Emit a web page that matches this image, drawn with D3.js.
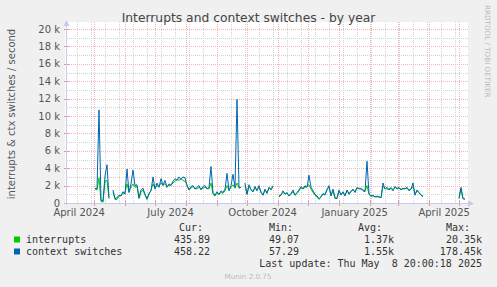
<!DOCTYPE html>
<html>
<head>
<meta charset="utf-8">
<script src="https://cdn.jsdelivr.net/npm/d3@7"></script>
<style>
  html, body { margin: 0; padding: 0; background: #F0F0F0; }
  svg { display: block; }
</style>
</head>
<body>
<script>
// ---------- data (values in thousands, one point every 2 days from 2024-05-01) ----------
const seriesNames = ["interrupts", "context switches"];
const seriesColors = ["#00CC00", "#0066B3"];
const dataStartISO = "2024-05-01T20:00:00Z";
const stepDays = 2;

const interrupts = [
  1.6,1.5,2.9,0.2,0.1,2.5,2.6,0.5,null,1.3,
  0.4,0.4,0.8,0.9,1.1,1.2,2.2,1.3,1.8,2.2,
  1.8,1.9,0.5,1.2,1.5,0.9,0.4,1.0,1.5,2.2,
  1.7,2.0,1.9,2.3,2.1,2.2,1.9,2.0,2.1,2.3,
  2.5,2.7,2.6,2.8,2.6,2.5,2.1,1.5,1.7,1.9,
  1.7,1.6,1.8,1.6,1.7,1.8,1.7,1.6,2.3,1.0,
  0.8,1.1,1.0,1.2,1.1,1.4,2.0,1.5,1.8,2.1,
  1.7,2.3,1.8,1.8,null,2.0,1.0,1.9,1.6,1.3,
  1.7,1.5,1.8,1.3,0.9,1.5,1.2,1.7,1.6,2.0,
  null,null,0.8,1.0,1.2,1.1,1.1,0.8,1.0,1.3,
  0.9,1.1,1.4,1.7,1.7,1.8,1.9,2.1,1.6,1.2,
  0.9,0.7,0.4,0.7,1.0,1.0,1.6,1.8,0.9,1.4,
  0.5,0.6,1.3,1.0,1.2,0.9,1.4,1.1,1.4,1.5,
  1.3,1.7,1.7,1.6,1.5,1.4,2.0,1.0,0.8,0.8,
  0.7,0.7,0.7,0.6,1.9,1.7,1.6,1.6,1.8,1.5,
  1.8,1.7,1.7,1.6,1.6,1.7,1.7,1.5,1.6,1.9,
  1.0,1.4,1.2,0.9,0.7,null,null,null,null,null,
  null,null,null,null,null,null,null,null,null,null,
  null,null,0.5,1.6,0.5,0.43
];

const contextSwitches = [
  1.7,1.6,10.7,0.3,0.2,3.1,4.4,0.6,null,1.5,
  0.5,0.6,0.9,0.8,1.3,1.0,3.9,1.2,2.2,3.8,
  2.0,2.1,0.6,1.5,1.7,1.0,0.5,1.1,1.4,3.0,
  1.6,2.3,1.8,2.8,2.0,2.6,1.8,2.2,2.0,2.5,
  2.8,2.6,3.0,2.7,3.0,2.9,2.0,1.5,1.9,2.0,
  1.6,1.8,2.0,1.5,1.9,2.0,1.6,1.8,4.2,1.2,
  0.9,1.3,1.0,1.4,1.2,1.6,3.4,1.4,2.0,3.3,
  1.8,11.9,1.7,1.8,null,2.3,1.0,2.1,1.5,1.3,
  1.9,1.4,2.0,1.2,0.9,1.6,1.1,1.8,1.5,1.9,
  null,null,0.7,0.9,1.4,1.0,1.2,0.8,1.1,1.5,
  0.9,1.2,1.5,1.9,1.6,2.0,1.8,3.2,1.8,1.4,
  1.0,0.8,0.5,0.7,1.1,0.9,1.5,2.0,0.8,1.6,
  0.6,0.5,1.5,0.9,1.3,0.8,1.5,1.0,1.3,1.6,
  1.2,1.8,1.6,1.7,1.4,1.3,4.8,1.0,0.8,0.9,
  0.7,0.8,0.7,0.6,2.3,1.6,1.8,1.5,1.7,1.4,
  1.9,1.6,1.8,1.5,1.7,1.6,1.8,1.4,1.6,2.3,
  0.9,1.5,1.2,0.9,0.8,null,null,null,null,null,
  null,null,null,null,null,null,null,null,null,null,
  null,null,0.6,1.8,0.5,0.45
];

const yTickValues = [0, 2000, 4000, 6000, 8000, 10000, 12000, 14000, 16000, 18000, 20000];
const xLabelMonths = ["2024-04-01", "2024-07-01", "2024-10-01", "2025-01-01", "2025-04-01"];
const xLabelTexts = ["April 2024", "July 2024", "October 2024", "January 2025", "April 2025"];

const legendHeaders = ["Cur:", "Min:", "Avg:", "Max:"];
const legendInterrupts = ["435.89", "49.07", "1.37k", "20.35k"];
const legendContext = ["458.22", "57.29", "1.55k", "178.45k"];
const lastUpdate = "Last update: Thu May  8 20:00:18 2025";
const titleText = "Interrupts and context switches - by year";
const yAxisLabel = "interrupts & ctx switches / second";

(function () {
// ---------- layout ----------
const W = 497, H = 287;
const pL = 67, pR = 467, pT = 29, pB = 203;
const tEnd = new Date("2025-05-08T20:00:18Z");
const tStart = d3.utcDay.offset(tEnd, -400);

const svg = d3.select("body").append("svg").attr("width", W).attr("height", H);
svg.append("rect").attr("width", W).attr("height", H).attr("fill", "#F0F0F0");

const x = d3.scaleTime().domain([tStart, tEnd]).range([pL, pR]);
const y = d3.scaleLinear().domain([0, 20000]).range([pB, pT]);

// plot background
svg.append("rect").attr("x", 65).attr("y", 22).attr("width", 468 - 65).attr("height", pB - 22)
  .attr("fill", "#FFFFFF");

const minorColor = "#D2D2D2", majorColor = "#F2B4B4";
const grid = svg.append("g").attr("shape-rendering", "crispEdges");
// minor horizontal (odd thousands)
const minorY = d3.range(1000, 20001, 2000);
grid.selectAll(".hmin").data(minorY).enter().append("line")
  .attr("x1", pL).attr("x2", 468).attr("y1", d => Math.round(y(d)) + 0.5).attr("y2", d => Math.round(y(d)) + 0.5)
  .attr("stroke", minorColor).attr("stroke-dasharray", "1,1");
// minor vertical every two weeks (Sundays)
const firstSunday = new Date("2024-04-14T00:00:00Z");
const minorX = d3.range(0, 30).map(k => d3.utcDay.offset(firstSunday, 14 * k)).filter(d => d < tEnd);
grid.selectAll(".vmin").data(minorX).enter().append("line")
  .attr("x1", d => Math.round(x(d)) + 0.5).attr("x2", d => Math.round(x(d)) + 0.5).attr("y1", 22).attr("y2", pB)
  .attr("stroke", minorColor).attr("stroke-dasharray", "1,1");
// major horizontal
grid.selectAll(".hmaj").data(yTickValues.filter(v => v > 0)).enter().append("line")
  .attr("x1", pL).attr("x2", 468).attr("y1", d => Math.round(y(d)) + 0.5).attr("y2", d => Math.round(y(d)) + 0.5)
  .attr("stroke", majorColor).attr("stroke-dasharray", "1,1");
// major vertical at month starts
const months = d3.utcMonth.range(tStart, tEnd);
grid.selectAll(".vmaj").data(months).enter().append("line")
  .attr("x1", d => Math.round(x(d)) + 0.5).attr("x2", d => Math.round(x(d)) + 0.5).attr("y1", 22).attr("y2", pB)
  .attr("stroke", majorColor).attr("stroke-dasharray", "1,1");

// tick marks on axes
grid.selectAll(".xt").data(months).enter().append("line")
  .attr("x1", d => Math.round(x(d)) + 0.5).attr("x2", d => Math.round(x(d)) + 0.5).attr("y1", pB - 2).attr("y2", pB + 3)
  .attr("stroke", "#EE9090");
grid.selectAll(".yt").data(yTickValues).enter().append("line")
  .attr("x1", pL - 3).attr("x2", pL + 2).attr("y1", d => Math.round(y(d)) + 0.5).attr("y2", d => Math.round(y(d)) + 0.5)
  .attr("stroke", "#EE9090");

// axes
const axisColor = "#C8C8F0";
svg.append("line").attr("x1", pL - 2).attr("x2", 470).attr("y1", pB + 0.5).attr("y2", pB + 0.5)
  .attr("stroke", axisColor).attr("shape-rendering", "crispEdges");
svg.append("line").attr("x1", pL - 0.5).attr("x2", pL - 0.5).attr("y1", pB + 2).attr("y2", 25)
  .attr("stroke", axisColor).attr("shape-rendering", "crispEdges");
svg.append("path").attr("d", `M${pL - 3.5},26 L${pL + 2.5},26 L${pL - 0.5},20 Z`).attr("fill", axisColor);
svg.append("path").attr("d", `M468,${pB - 2.5} L468,${pB + 3.5} L474,${pB + 0.5} Z`).attr("fill", axisColor);

// y tick labels
svg.append("g").selectAll("text").data(yTickValues).enter().append("text")
  .attr("x", 60).attr("y", d => y(d) + 3.5).attr("text-anchor", "end")
  .attr("font-family", "DejaVu Sans").attr("font-size", 10).attr("fill", "#555")
  .text(d => d === 0 ? "0" : (d / 1000) + " k");

// x labels centred on their month
svg.append("g").selectAll("text").data(xLabelMonths).enter().append("text")
  .attr("x", (d) => { const m = new Date(d + "T00:00:00Z"); return (x(m) + x(d3.utcMonth.offset(m, 1))) / 2; })
  .attr("y", 216).attr("text-anchor", "middle")
  .attr("font-family", "DejaVu Sans").attr("font-size", 10).attr("fill", "#555")
  .text((d, i) => xLabelTexts[i]);

// lines
const dataStart = new Date(dataStartISO);
function toPoints(arr) {
  return arr.map((v, i) => ({ t: d3.utcDay.offset(dataStart, stepDays * i), v: v == null ? null : v * 1000 }));
}
const line = d3.line().defined(d => d.v != null).x(d => x(d.t)).y(d => y(d.v));
[interrupts, contextSwitches].forEach((arr, i) => {
  svg.append("path").datum(toPoints(arr)).attr("d", line)
    .attr("fill", "none").attr("stroke", seriesColors[i]).attr("stroke-width", 1);
});

// title
svg.append("text").attr("x", 248.5).attr("y", 22).attr("text-anchor", "middle")
  .attr("font-family", "DejaVu Sans").attr("font-size", 12.3).attr("fill", "#444").text(titleText);

// y axis label
svg.append("text").attr("transform", "translate(15,114) rotate(-90)").attr("text-anchor", "middle")
  .attr("font-family", "DejaVu Sans").attr("font-size", 10).attr("fill", "#555").text(yAxisLabel);

// rrdtool watermark
svg.append("text").attr("transform", "translate(485,5) rotate(90)").attr("text-anchor", "start")
  .attr("font-family", "DejaVu Sans").attr("font-size", 7.2).attr("fill", "#BBBBBB").text("RRDTOOL / TOBI OETIKER");

// legend
const mono = "DejaVu Sans Mono";
const colRight = [210, 299, 394, 482];
const headerRight = [203, 293, 382, 470];
const lg = svg.append("g").attr("font-family", mono).attr("font-size", 10).attr("fill", "#333");
lg.selectAll(".hdr").data(legendHeaders).enter().append("text")
  .attr("x", (d, i) => headerRight[i]).attr("y", 231).attr("text-anchor", "end").text(d => d);
[legendInterrupts, legendContext].forEach((vals, r) => {
  const yy = 243 + 12 * r;
  lg.append("rect").attr("x", 14).attr("y", yy - 6.5).attr("width", 6).attr("height", 6).attr("fill", seriesColors[r]);
  lg.append("text").attr("x", 26).attr("y", yy).text(seriesNames[r]);
  vals.forEach((v, c) => {
    lg.append("text").attr("x", colRight[c]).attr("y", yy).attr("text-anchor", "end").text(v);
  });
});
lg.append("text").attr("x", 482).attr("y", 267).attr("text-anchor", "end")
  .style("white-space", "pre").text(lastUpdate);

svg.append("text").attr("x", 248).attr("y", 279).attr("text-anchor", "middle")
  .attr("font-family", "DejaVu Sans").attr("font-size", 7.2).attr("fill", "#BBBBBB").text("Munin 2.0.75");
})();
</script>
</body>
</html>
